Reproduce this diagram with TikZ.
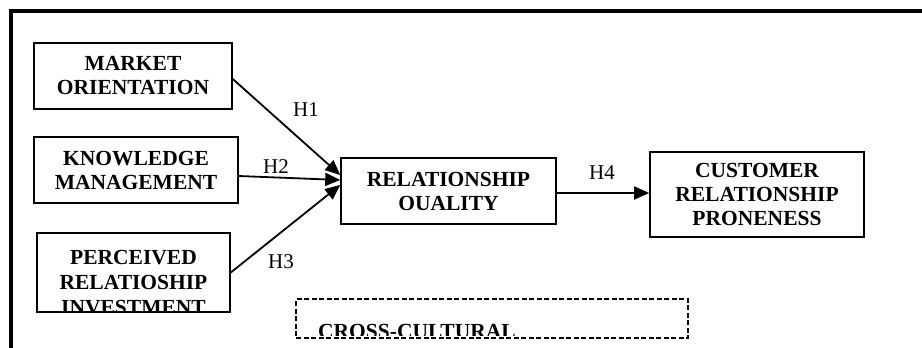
\documentclass[tikz,border=0pt]{standalone}
\usepackage{fontspec}
\setmainfont{Liberation Serif}
\usetikzlibrary{arrows.meta,positioning}

\begin{document}
\begin{tikzpicture}[x=1pt,y=-1pt]
\tikzstyle{every node}=[font=\fontsize{21}{24}\selectfont]
\tikzstyle{box}=[draw, line width=1.6pt, align=center, inner sep=0pt, font=\fontsize{21.5}{24}\selectfont\bfseries]
\tikzstyle{boxtext}=[align=center, inner sep=0pt, font=\fontsize{21.5}{25}\selectfont\bfseries]
\tikzstyle{arr}=[line width=1.8pt, -{Triangle[length=15pt,width=13pt]}]
\useasboundingbox (0,0) rectangle (922,348);
% outer frame, cut at right and bottom
\draw[line width=4pt] (10.5,348) -- (10.5,11) -- (922,11);
% constructs
\node[box, minimum width=198, minimum height=66] (mo) at (133,76) {MARKET\\ORIENTATION};
\node[box, minimum width=204, minimum height=66] (km) at (136,170) {KNOWLEDGE\\MANAGEMENT};
\node[box, minimum width=193, minimum height=79] (pri) at (133.5,272.5) {};
\begin{scope}
\clip (pri.north west) rectangle (pri.south east);
\node[boxtext] (pritext) at (133.5,282.5) {PERCEIVED\\RELATIOSHIP\\INVESTMENT};
\end{scope}
\node[box, minimum width=215, minimum height=66] (rq) at (448.5,191) {RELATIONSHIP\\OUALITY};
\node[box, minimum width=214, minimum height=85] (crp) at (757,194.5) {CUSTOMER\\RELATIONSHIP\\PRONENESS};
% moderator
\node[draw, dash pattern=on 5pt off 2.5pt, line width=1.4pt, minimum width=392, minimum height=39, inner sep=0pt] (cc) at (492,318.5) {};
\begin{scope}
\clip (297,300) rectangle (687,335);
\node[anchor=base west, inner sep=0pt, font=\fontsize{21.5}{24}\selectfont\bfseries] (cctext) at (318,338) {CROSS-CULTURAL};
\end{scope}
% hypotheses
\draw[arr] ([yshift=-3pt]mo.east) -- ([yshift=16pt]rq.west);
\draw[arr] ([yshift=-6pt]km.east) -- ([yshift=11pt]rq.west);
\draw[arr] (pri.east) -- ([yshift=6pt]rq.west);
\draw[arr] ([yshift=-2pt]rq.east) -- ([yshift=-2pt]rq.east -| crp.west);
\node (h1) at (306,110) {H1};
\node (h2) at (276,167) {H2};
\node (h3) at (281,262) {H3};
\node (h4) at (602,173) {H4};
\end{tikzpicture}
\end{document}
